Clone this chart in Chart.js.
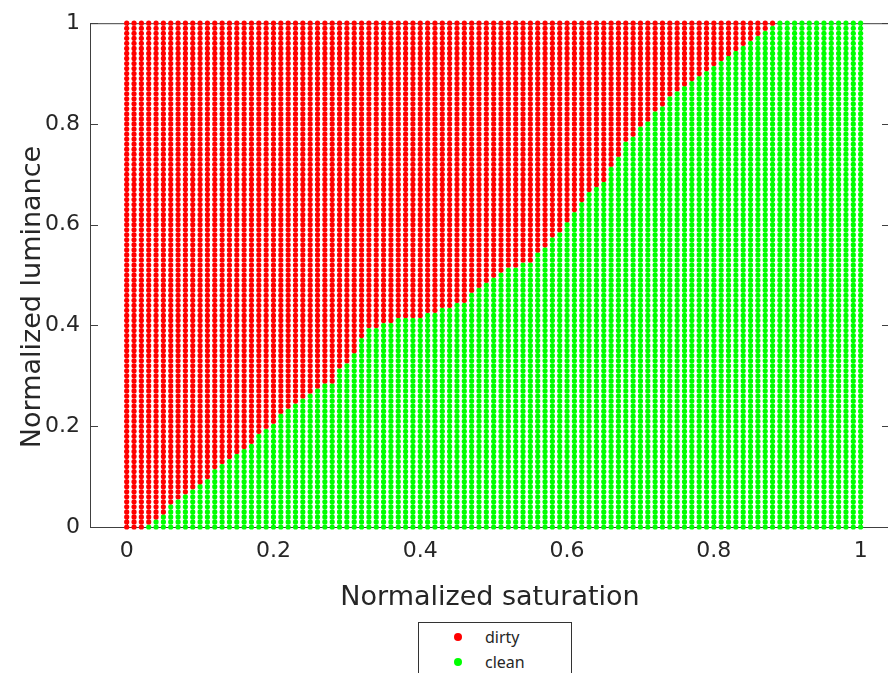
<!DOCTYPE html>
<html>
<head>
<meta charset="utf-8">
<script src="https://cdn.jsdelivr.net/npm/chart.js@4/dist/chart.umd.min.js"></script>
<style>
  html, body { margin: 0; padding: 0; background: #fff; overflow: hidden; }
  #wrap { position: relative; width: 900px; height: 673px; }
  #chart { position: absolute; left: 0; top: 0; }
  #legend {
    position: absolute; left: 418px; top: 622px; width: 152px; height: 70px;
    border: 1px solid #333; background: #fff;
    font-family: "Noto Sans", sans-serif; font-size: 16px; color: #262626;
  }
  .item { position: absolute; left: 0; height: 22px; line-height: 22px; }
  .dot { position: absolute; left: 35px; top: 7px; width: 8px; height: 8px; border-radius: 50%; }
  .lbl { position: absolute; left: 66px; top: 0; }
</style>
</head>
<body>
<div id="wrap">
  <canvas id="chart" width="900" height="640"></canvas>
  <div id="legend"></div>
</div>
<script>
// classes
const classNames = ['dirty', 'clean'];
const classColors = ['#ff0000', '#00ff00'];

// tick labels
const xTickValues = [0, 0.2, 0.4, 0.6, 0.8, 1];
const yTickValues = [0, 0.2, 0.4, 0.6, 0.8, 1];

// sample grid: 101 saturation columns x 101 luminance rows, step 0.01
const gridCount = 101;
const gridStep = 0.01;

// highest luminance still labelled "clean" in each saturation column
// null = whole column is dirty
const cleanTop = [
  null, null, null, 0.00, 0.01, 0.02, 0.04, 0.05, 0.06, 0.07,
  0.08, 0.09, 0.11, 0.12, 0.13, 0.14, 0.15, 0.16, 0.18, 0.19,
  0.20, 0.22, 0.23, 0.24, 0.25, 0.26, 0.27, 0.28, 0.28, 0.31,
  0.32, 0.34, 0.37, 0.39, 0.39, 0.40, 0.40, 0.41, 0.41, 0.41,
  0.41, 0.42, 0.42, 0.43, 0.43, 0.44, 0.44, 0.46, 0.47, 0.48,
  0.49, 0.50, 0.51, 0.51, 0.52, 0.52, 0.54, 0.55, 0.57, 0.58,
  0.60, 0.62, 0.64, 0.66, 0.67, 0.68, 0.71, 0.73, 0.76, 0.77,
  0.79, 0.80, 0.82, 0.83, 0.85, 0.86, 0.87, 0.88, 0.89, 0.90,
  0.91, 0.92, 0.93, 0.94, 0.95, 0.96, 0.97, 0.98, 0.99, 1.00,
  1.00, 1.00, 1.00, 1.00, 1.00, 1.00, 1.00, 1.00, 1.00, 1.00,
  1.00
];

const dirtyPts = [];
const cleanPts = [];
for (let i = 0; i < gridCount; i++) {
  const x = +(i * gridStep).toFixed(2);
  for (let j = 0; j < gridCount; j++) {
    const y = +(j * gridStep).toFixed(2);
    const isClean = cleanTop[i] !== null && y <= cleanTop[i] + 1e-9;
    (isClean ? cleanPts : dirtyPts).push({ x, y });
  }
}

const axisColor = '#404040';
const textColor = '#262626';

// inward tick marks + top border line + y title (MATLAB style box)
const framePlugin = {
  id: 'frame',
  beforeDatasetsDraw(chart) {
    const { ctx, chartArea: a, scales } = chart;
    ctx.save();
    ctx.strokeStyle = axisColor;
    ctx.lineWidth = 1;
    ctx.beginPath();
    ctx.moveTo(a.left, a.top + 0.5);
    ctx.lineTo(a.right, a.top + 0.5);
    scales.x.ticks.forEach(t => {
      const px = Math.round(scales.x.getPixelForValue(t.value)) + 0.5;
      ctx.moveTo(px, a.bottom); ctx.lineTo(px, a.bottom - 8);
      ctx.moveTo(px, a.top); ctx.lineTo(px, a.top + 8);
    });
    scales.y.ticks.forEach(t => {
      const py = Math.round(scales.y.getPixelForValue(t.value)) + 0.5;
      ctx.moveTo(a.left, py); ctx.lineTo(a.left + 8, py);
      ctx.moveTo(a.right, py); ctx.lineTo(a.right - 8, py);
    });
    ctx.stroke();
    ctx.restore();
  },
  afterDraw(chart) {
    const { ctx } = chart;
    ctx.save();
    ctx.fillStyle = textColor;
    ctx.font = '27px "DejaVu Sans"';
    ctx.textAlign = 'center';
    ctx.textBaseline = 'middle';
    ctx.translate(33, 297);
    ctx.rotate(-Math.PI / 2);
    ctx.fillText('Normalized luminance', 0, 0);
    ctx.restore();
  }
};

const tickFont = { family: 'DejaVu Sans', size: 22 };

new Chart(document.getElementById('chart'), {
  type: 'scatter',
  data: {
    datasets: [
      { label: classNames[0], data: dirtyPts, backgroundColor: classColors[0], borderWidth: 0, pointRadius: 2.6, clip: false },
      { label: classNames[1], data: cleanPts, backgroundColor: classColors[1], borderWidth: 0, pointRadius: 2.6, clip: false }
    ]
  },
  options: {
    responsive: false,
    animation: false,
    events: [],
    layout: { padding: { top: 19, right: 10, left: 0, bottom: 0 } },
    plugins: { legend: { display: false }, tooltip: { enabled: false } },
    scales: {
      x: {
        type: 'linear',
        min: -0.05,
        max: 1.04,
        afterBuildTicks: s => { s.ticks = xTickValues.map(v => ({ value: v })); },
        afterFit: s => { s.height = 113; },
        grid: { display: false, drawTicks: false },
        border: { display: true, color: axisColor, width: 1 },
        ticks: { padding: 11, color: textColor, font: tickFont, maxRotation: 0, callback: v => String(v) },
        title: {
          display: true, text: 'Normalized saturation', color: textColor,
          font: { family: 'DejaVu Sans', size: 27 }, padding: { top: 0, bottom: 26 }
        }
      },
      y: {
        type: 'linear',
        min: 0,
        max: 1,
        afterBuildTicks: s => { s.ticks = yTickValues.map(v => ({ value: v })); },
        afterFit: s => { s.width = 90; },
        grid: { display: false, drawTicks: false },
        border: { display: true, color: axisColor, width: 1 },
        ticks: { padding: 10, color: textColor, font: tickFont, callback: v => String(v) }
      }
    }
  },
  plugins: [framePlugin]
});

// legend box below the axes
const legend = document.getElementById('legend');
classNames.forEach((name, k) => {
  const item = document.createElement('div');
  item.className = 'item';
  item.style.top = (3 + k * 25) + 'px';
  item.style.width = '100%';
  item.innerHTML = '<span class="dot" style="background:' + classColors[k] + '"></span><span class="lbl">' + name + '</span>';
  legend.appendChild(item);
});
</script>
</body>
</html>
